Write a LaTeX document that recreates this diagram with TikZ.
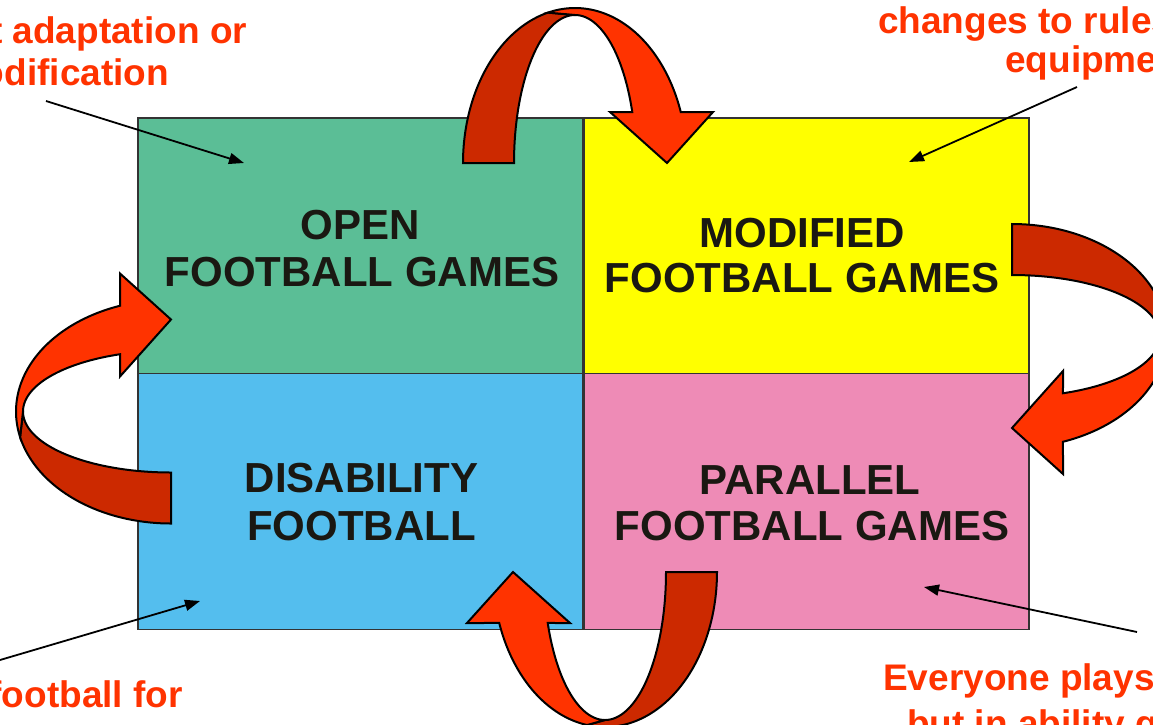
\documentclass[tikz,border=0pt]{standalone}
\usepackage{fontspec}
\setmainfont{Liberation Sans}
\usetikzlibrary{arrows.meta}
\definecolor{cgreen}{RGB}{91,190,150}
\definecolor{cyellow}{RGB}{255,255,0}
\definecolor{cblue}{RGB}{84,190,238}
\definecolor{cpink}{RGB}{238,139,182}
\definecolor{dkred}{RGB}{204,41,0}
\definecolor{brred}{RGB}{255,51,0}
\definecolor{txtblack}{RGB}{26,24,18}
\newcommand\ribbonarrow[1]{%
  \filldraw[ribbon, fill=dkred] (-112,0)
    -- plot[domain=180:#1, samples=60, variable=\t] ({112*cos(\t)},{-155*sin(\t)})
    -- (0,-148)
    -- plot[domain=90:180, samples=60, variable=\t] ({61*cos(\t)},{-148*sin(\t)})
    -- cycle;
  \filldraw[ribbon, fill=brred]
    plot[domain=#1:19.2, samples=60, variable=\t] ({112*cos(\t)},{-155*sin(\t)})
    -- (138,-51) -- (92,0) -- (35,-51)
    -- plot[domain=20.15:90, samples=60, variable=\t] ({61*cos(\t)},{-148*sin(\t)})
    -- cycle;}
\tikzset{
  cellbox/.style={draw=black!80, line width=1.2pt, minimum width=445pt, minimum height=256pt, inner sep=0pt, outer sep=0pt},
  celltext/.style={text=txtblack, font=\fontsize{42}{47}\selectfont\bfseries, inner sep=0pt, anchor=base},
  redtext/.style={text=brred, font=\fontsize{37}{42}\selectfont\bfseries, inner sep=0pt},
  ribbon/.style={draw=black, line width=2pt, line join=miter},
  leader/.style={draw=black, line width=1.8pt, -{Triangle[length=15pt,width=11pt]}}
}
\begin{document}
\begin{tikzpicture}[x=1pt,y=-1pt]
\useasboundingbox (0,0) rectangle (1153,724);
\fill[white] (0,0) rectangle (1153,724);
% cells
\node[cellbox, fill=cgreen] (open) at (360.5,246) {};
\node[cellbox, fill=cyellow] (modified) at (806.5,246) {};
\node[cellbox, fill=cblue] (disability) at (360.5,501.5) {};
\node[cellbox, fill=cpink] (parallel) at (806.5,501.5) {};
% cell texts
\node[celltext] (openA) at (360,239) {OPEN};
\node[celltext] (openB) at (362,286) {FOOTBALL GAMES};
\node[celltext] (modA) at (802,247) {MODIFIED};
\node[celltext] (modB) at (802,292) {FOOTBALL GAMES};
\node[celltext] (disA) at (361.5,492) {DISABILITY};
\node[celltext] (disB) at (361.5,540) {FOOTBALL};
\node[celltext] (parA) at (810,494) {PARALLEL};
\node[celltext] (parB) at (812,540) {FOOTBALL GAMES};
% red annotation texts
\node[redtext, anchor=base] (tlA) at (59,43) {without adaptation or};
\node[redtext, anchor=base] (tlB) at (59,85) {modification};
\node[redtext, anchor=base west] (trA) at (878,33) {changes to rules and};
\node[redtext, anchor=base west] (trB) at (1005,72) {equipment};
\node[redtext, anchor=base east] (blA) at (183,707) {football for};
\node[redtext, anchor=base west] (brA) at (883,690) {Everyone plays};
\node[redtext, anchor=base west] (brB) at (907,736) {but in ability groups};
% leader lines
\coordinate (tlstart) at (46,101);
\coordinate (tltip) at (244,163);
\coordinate (trstart) at (1077,87);
\coordinate (trtip) at (909,162);
\coordinate (blstart) at (0,660);
\coordinate (bltip) at (200,601);
\coordinate (brstart) at (1137,632);
\coordinate (brtip) at (924,587);
\draw[leader] (tlstart) -- (tltip);
\draw[leader] (trstart) -- (trtip);
\draw[leader] (blstart) -- (bltip);
\draw[leader] (brstart) -- (brtip);
% ribbon arrows
\begin{scope}[shift={(575,163)}]
  \ribbonarrow{104}
\end{scope}
\begin{scope}[shift={(605,572)}, rotate=180]
  \ribbonarrow{80.8}
\end{scope}
\begin{scope}[shift={(171,411.5)}, rotate=90]
  \ribbonarrow{103.2}
\end{scope}
\begin{scope}[shift={(1012,336)}, rotate=-90]
  \ribbonarrow{90}
\end{scope}
\end{tikzpicture}
\end{document}
